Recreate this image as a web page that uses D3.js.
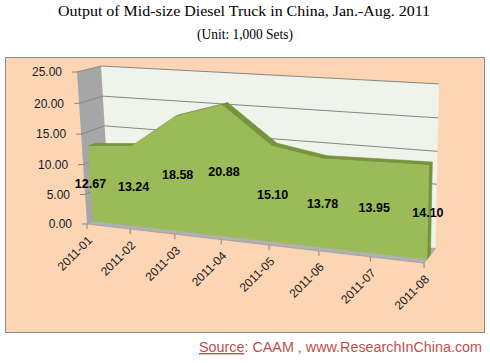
<!DOCTYPE html>
<html>
<head>
<meta charset="utf-8">
<script src="https://cdn.jsdelivr.net/npm/d3@7"></script>
<style>
body { margin:0; background:#fff; }
text { font-family: "Liberation Sans", Arial, sans-serif; }
</style>
</head>
<body>
<svg id="chart" width="490" height="363"></svg>
<script>

var months = ["2011-01","2011-02","2011-03","2011-04","2011-05","2011-06","2011-07","2011-08"];
var output = [12.67, 13.24, 18.58, 20.88, 15.10, 13.78, 13.95, 14.10];
var yTicks = [0, 5, 10, 15, 20, 25];

var svg = d3.select("#chart");

// category -> 0..1 across, value -> 0..1 up (world units)
var x = d3.scalePoint().domain(months).range([0, 1]);
var y = d3.scaleLinear().domain([0, 25]).range([0, 1]);

// perspective camera, fitted by eye to the excel 3d view
var O  = [87, 224, 1],
    CX = [286.96, 8.03, -0.1181],
    CY = [-12.83, -154.64, -0.0367],
    CZ = [27.06, -3.2, 0.03905];

function proj(a, b, c) {
  var h = [0, 1, 2].map(function(k) { return O[k] + a*CX[k] + b*CY[k] + c*CZ[k]; });
  return [h[0]/h[2], h[1]/h[2]];
}

function poly(pts, fill, stroke) {
  return svg.append("path")
    .attr("d", d3.line()(pts) + "Z")
    .attr("fill", fill)
    .attr("stroke", stroke || "none")
    .attr("stroke-width", 0.6)
    .attr("stroke-linejoin", "round");
}

// frame
svg.append("rect").attr("x", 5.5).attr("y", 57.5).attr("width", 479).attr("height", 275)
  .attr("fill", "#fcd5b5").attr("stroke", "#8a8a8a");

// title
svg.append("text").attr("x", 244).attr("y", 16).attr("text-anchor", "middle")
  .style("font-family", "'Liberation Serif', serif").style("font-size", "14px")
  .attr("textLength", 372).attr("lengthAdjust", "spacingAndGlyphs")
  .text("Output of Mid-size Diesel Truck in China, Jan.-Aug. 2011");
svg.append("text").attr("x", 245).attr("y", 39).attr("text-anchor", "middle")
  .style("font-family", "'Liberation Serif', serif").style("font-size", "14px")
  .attr("textLength", 96).attr("lengthAdjust", "spacingAndGlyphs")
  .text("(Unit: 1,000 Sets)");

// walls + floor
poly([proj(0,0,1), proj(0,1,1), proj(1,1,1), proj(1,0,1)], "#eff4ea");
poly([proj(0,0,0), proj(0,1,0), proj(0,1,1), proj(0,0,1)], "#a6a6a6");
poly([proj(0,0,0), proj(1,0,0), proj(1,0,1), proj(0,0,1)], "#b1b1b1", "#8f8f8f");

// gridlines on side wall and back wall
yTicks.filter(function(v) { return v > 0; }).forEach(function(v) {
  svg.append("path")
    .attr("d", d3.line()([proj(0, y(v), 0), proj(0, y(v), 1), proj(1, y(v), 1)]))
    .attr("fill", "none").attr("stroke", "#868686").attr("stroke-width", 1);
});

// the area (front at zF, back at zB)
var zF = 0.25, zB = 0.55;

poly([proj(1,0,zF), proj(1,y(output[7]),zF), proj(1,y(output[7]),zB), proj(1,0,zB)], "#76923c", "#76923c");

for (var i = 0; i < months.length - 1; i++) {
  var a = x(months[i]), b = x(months[i+1]);
  poly([proj(a, y(output[i]), zF), proj(b, y(output[i+1]), zF),
        proj(b, y(output[i+1]), zB), proj(a, y(output[i]), zB)], "#77933c", "#6f8a37");
}

var front = months.map(function(m, i) { return proj(x(m), y(output[i]), zF); });
front.push(proj(1, 0, zF), proj(0, 0, zF));
poly(front, "#9bbb59", "#9bbb59");

// value axis
yTicks.forEach(function(v) {
  var p = proj(0, y(v), 0);
  svg.append("line").attr("x1", p[0] - 5).attr("x2", p[0]).attr("y1", p[1]).attr("y2", p[1])
    .attr("stroke", "#868686");
  svg.append("text").attr("x", p[0] - 15).attr("y", p[1]).attr("dy", "0.35em")
    .attr("text-anchor", "end").style("font-size", "12px").attr("fill", "#1a1a1a")
    .text(d3.format(".2f")(v));
});

// category axis
months.forEach(function(m) {
  var p = proj(x(m), 0, 0);
  svg.append("line").attr("x1", p[0]).attr("x2", p[0]).attr("y1", p[1]).attr("y2", p[1] + 5)
    .attr("stroke", "#868686");
  svg.append("text")
    .attr("transform", "translate(" + (p[0] + 3) + "," + (p[1] + 14) + ") rotate(-45)")
    .attr("text-anchor", "end").attr("dy", "0.35em")
    .style("font-size", "12px").attr("fill", "#1a1a1a")
    .text(m);
});

// data labels
months.forEach(function(m, i) {
  var p = proj(x(m), y(output[i] / 2), zF);
  svg.append("text").attr("x", p[0]).attr("y", p[1]).attr("dy", "0.35em")
    .attr("text-anchor", "middle").style("font-size", "12.5px").style("font-weight", "bold")
    .text(d3.format(".2f")(output[i]));
});

// source line
var src = svg.append("text").attr("x", 482).attr("y", 352).attr("text-anchor", "end")
  .style("font-size", "14px").attr("fill", "#c0504d")
  .attr("textLength", 283).attr("lengthAdjust", "spacingAndGlyphs");
src.append("tspan").style("text-decoration", "underline").text("Source");
src.append("tspan").text(": CAAM , www.ResearchInChina.com");

</script>
</body>
</html>
